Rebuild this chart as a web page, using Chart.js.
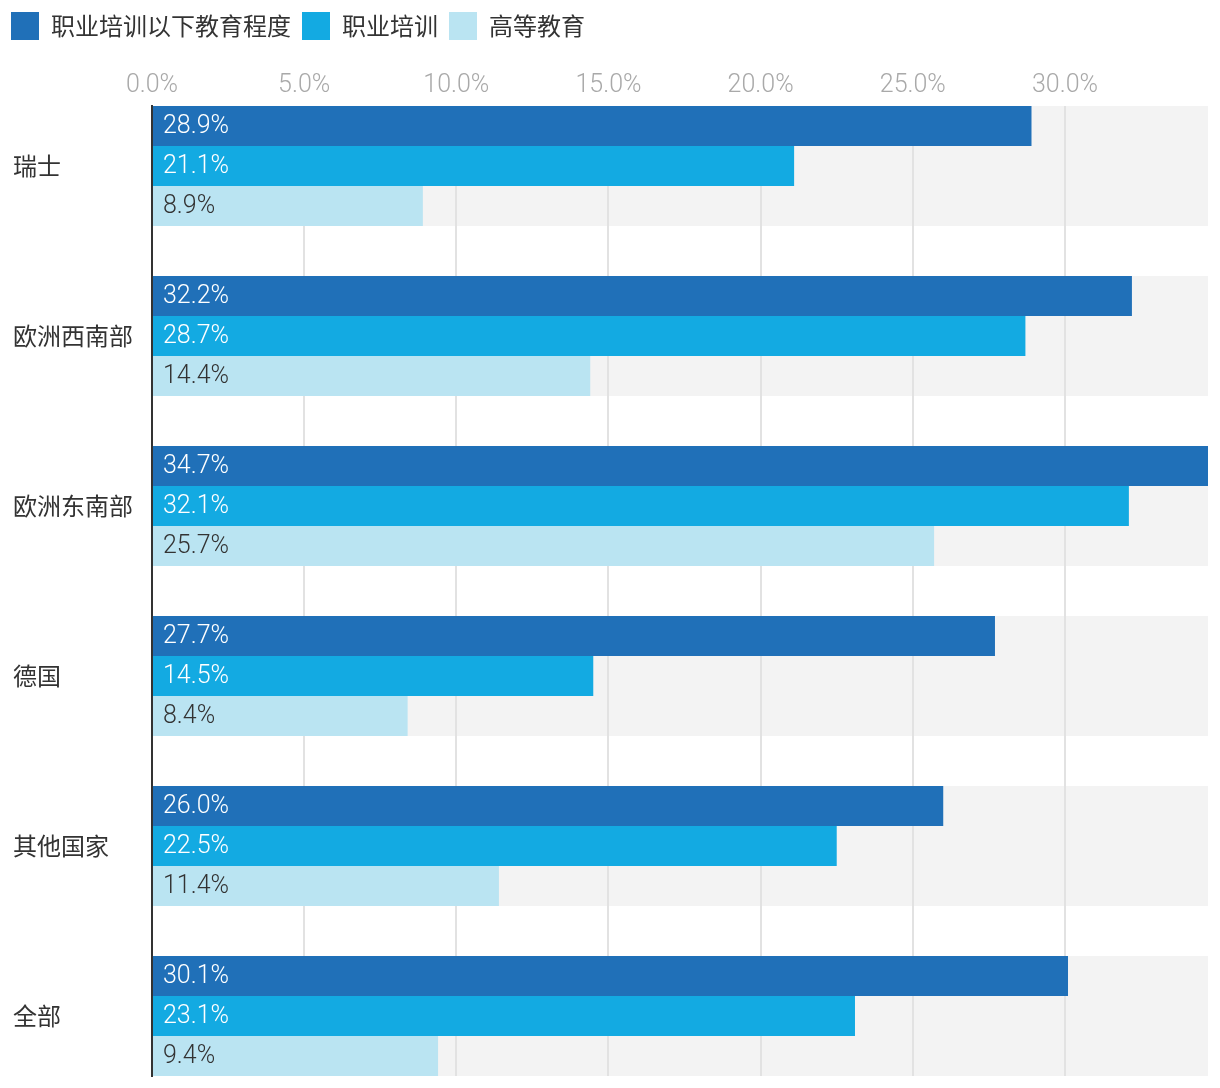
<!DOCTYPE html>
<html>
<head>
<meta charset="utf-8">
<script src="https://cdn.jsdelivr.net/npm/chart.js@4/dist/chart.umd.min.js"></script>
<style>
  body { margin: 0; background: #fff; }
  #wrap { width: 1220px; height: 1088px; position: relative; }
</style>
</head>
<body>
<div id="wrap"><canvas id="chart"></canvas></div>
<script>
const categories = ["瑞士", "欧洲西南部", "欧洲东南部", "德国", "其他国家", "全部"];
const seriesNames = ["职业培训以下教育程度", "职业培训", "高等教育"];
const belowVocational = [28.9, 32.2, 34.7, 27.7, 26.0, 30.1];
const vocational = [21.1, 28.7, 32.1, 14.5, 22.5, 23.1];
const higherEdu = [8.9, 14.4, 25.7, 8.4, 11.4, 9.4];
const xTicks = [0, 5, 10, 15, 20, 25, 30];

const colors = ["#2070b8", "#13aae2", "#bae4f2"];
const labelColors = ["#ffffff", "#ffffff", "#333333"];
const groupShare = 12 / 17; // bars take 120px of each 170px row

const numFont = "Roboto, 'Noto Sans CJK SC', sans-serif";
const cjkFont = "'Noto Sans CJK SC', sans-serif";

const toPoints = (vals) => vals.map((v, i) => ({ x: v, y: i }));
const allValues = belowVocational.concat(vocational, higherEdu);

// light grey band behind each group of bars
const bandPlugin = {
  id: "bands",
  beforeDraw(chart) {
    const { ctx, chartArea, scales } = chart;
    ctx.save();
    ctx.fillStyle = "#f3f3f3";
    categories.forEach((c, i) => {
      const top = scales.y.getPixelForValue(i - groupShare / 2);
      const bottom = scales.y.getPixelForValue(i + groupShare / 2);
      ctx.fillRect(chartArea.left, top, chartArea.right - chartArea.left, bottom - top);
    });
    ctx.restore();
  },
};

// value labels at the start of every bar
const valueLabels = {
  id: "valueLabels",
  afterDatasetsDraw(chart) {
    const ctx = chart.ctx;
    ctx.save();
    ctx.font = "300 25px " + numFont;
    ctx.textAlign = "left";
    ctx.textBaseline = "middle";
    chart.data.datasets.forEach((ds, di) => {
      const meta = chart.getDatasetMeta(di);
      meta.data.forEach((bar, i) => {
        ctx.fillStyle = labelColors[di];
        ctx.fillText(ds.data[i].x.toFixed(1) + "%", bar.base + 10, bar.y + 1);
      });
    });
    ctx.restore();
  },
};

// push category names a little right of the canvas edge
const yLabelShift = {
  id: "yLabelShift",
  afterLayout(chart) {
    chart.scales.y.left = 13;
  },
};

new Chart(document.getElementById("chart"), {
  type: "bar",
  data: {
    datasets: [
      { label: seriesNames[0], data: toPoints(belowVocational), backgroundColor: colors[0] },
      { label: seriesNames[1], data: toPoints(vocational), backgroundColor: colors[1] },
      { label: seriesNames[2], data: toPoints(higherEdu), backgroundColor: colors[2] },
    ],
  },
  options: {
    indexAxis: "y",
    responsive: true,
    maintainAspectRatio: false,
    animation: false,
    categoryPercentage: groupShare,
    barPercentage: 1,
    borderWidth: 0,
    layout: { padding: { left: 0, right: 12, top: 1, bottom: 12 } },
    plugins: {
      legend: {
        position: "top",
        align: "start",
        labels: {
          boxWidth: 28,
          boxHeight: 28,
          padding: 11,
          color: "#333",
          font: { size: 24, family: cjkFont },
        },
      },
      tooltip: { enabled: false },
    },
    scales: {
      x: {
        type: "linear",
        position: "top",
        min: 0,
        max: Math.max(...allValues),
        afterFit: (s) => { s.height = 56; },
        afterBuildTicks: (s) => { s.ticks = xTicks.map((v) => ({ value: v })); },
        ticks: {
          includeBounds: false,
          padding: 5,
          color: "#a9a9a9",
          font: { size: 25, family: numFont, weight: 300 },
          callback: (v) => v.toFixed(1) + "%",
        },
        grid: { color: "#e2e2e2", lineWidth: 2, drawTicks: false },
        border: { display: false },
      },
      y: {
        type: "linear",
        reverse: true,
        offset: false,
        min: -groupShare / 2,
        max: categories.length - 1 + groupShare / 2,
        afterFit: (s) => {
          s.width = 152;
          s.paddingTop = 0;
          s.paddingBottom = 0;
        },
        afterBuildTicks: (s) => { s.ticks = categories.map((c, i) => ({ value: i })); },
        ticks: {
          crossAlign: "far",
          color: "#333",
          font: { size: 24, family: cjkFont },
          callback: (v) => categories[v],
        },
        grid: { display: false },
        border: { display: true, color: "#333", width: 2, z: 1 },
      },
    },
  },
  plugins: [bandPlugin, valueLabels, yLabelShift],
});
</script>
</body>
</html>
